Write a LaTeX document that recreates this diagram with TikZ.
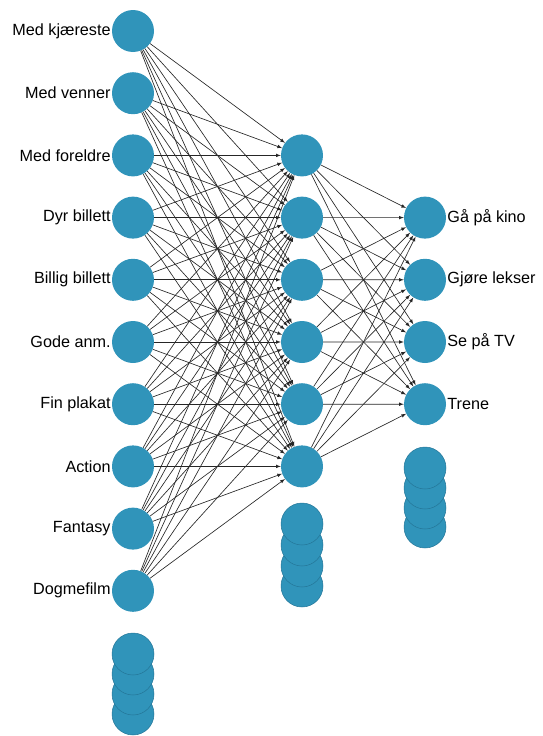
\documentclass[tikz,border=0pt]{standalone}
\usepackage{fontspec}
\setmainfont{Liberation Sans}
\definecolor{nevron}{RGB}{48,148,186}
\definecolor{nevronkant}{RGB}{36,118,152}
\tikzset{
  nevron/.style = {circle, fill=nevron, minimum size=42pt, inner sep=0pt},
  ekstra/.style = {nevron, draw=nevronkant, line width=0.5pt},
  kant/.style = {->, >=latex, line width=0.65pt, black!85},
  merke/.style = {inner sep=1pt, font=\fontsize{16.2}{19}\selectfont}
}
\begin{document}
\begin{tikzpicture}[x=1pt, y=-1pt]
  \useasboundingbox (0, 0) rectangle (542, 736);

  % input layer
  \foreach \navn [count=\i from 0] in {Med kjæreste, Med venner, Med foreldre,
      Dyr billett, Billig billett, Gode anm., Fin plakat, Action, Fantasy, Dogmefilm}
    \node[nevron, label={[merke]left:\navn}] (inn\i) at (133, 31 + 62.2*\i) {};

  % hidden layer
  \foreach \i in {0, ..., 5}
    \node[nevron] (skjult\i) at (302, 155.4 + 62.2*\i) {};

  % output layer
  \foreach \navn [count=\i from 0] in {Gå på kino, Gjøre lekser, Se på TV, Trene}
    \node[nevron, label={[merke]right:\navn}] (ut\i) at (425, 217.6 + 62.2*\i) {};

  % stacks of further neurons
  \foreach \y [count=\j] in {714, 694, 674, 654}
    \node[ekstra] (innrest\j) at (133, \y) {};
  \foreach \y [count=\j] in {586, 566, 545, 524}
    \node[ekstra] (skjultrest\j) at (302, \y) {};
  \foreach \y [count=\j] in {527, 508, 488, 468}
    \node[ekstra] (utrest\j) at (425, \y) {};

  % connections
  \foreach \i in {0, ..., 9}
    \foreach \j in {0, ..., 5}
      \draw[kant] (inn\i) -- (skjult\j);
  \foreach \i in {0, ..., 5}
    \foreach \j in {0, ..., 3}
      \draw[kant] (skjult\i) -- (ut\j);
\end{tikzpicture}
\end{document}
